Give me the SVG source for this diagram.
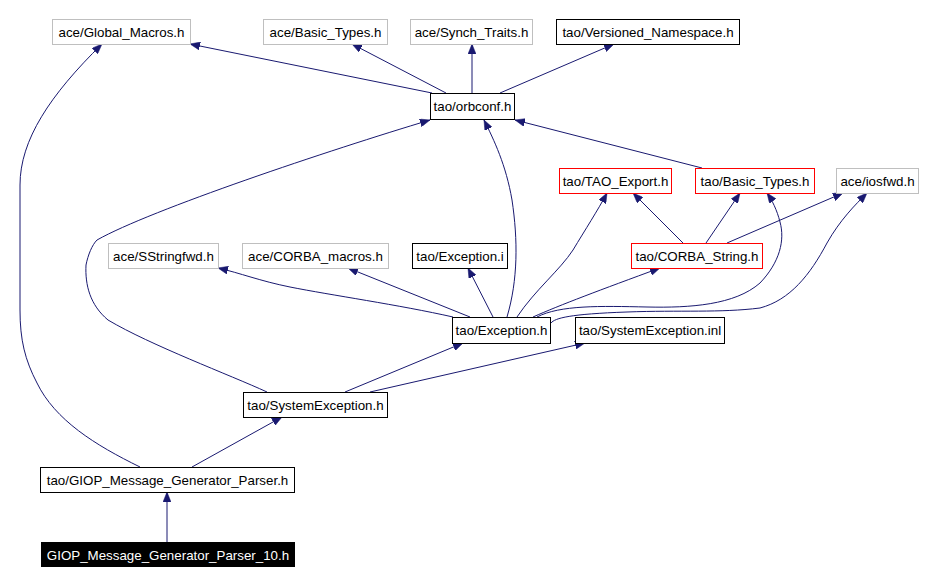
<svg xmlns="http://www.w3.org/2000/svg" width="926" height="584" viewBox="0 0 926 584">
<style>
.n rect{fill:#fff;stroke-width:1}
.g rect{stroke:#bfbfbf}
.b rect{stroke:#000}
.r rect{stroke:#ff0000}
text{font-family:"Liberation Sans",Arial,sans-serif;font-size:13.33px;fill:#000;text-anchor:middle}
.e path{fill:none;stroke:#191970;stroke-width:1;marker-end:url(#ah)}
</style>
<defs>
<marker id="ah" markerUnits="userSpaceOnUse" markerWidth="11" markerHeight="8" refX="10" refY="4" orient="auto">
<path d="M0,0 L10,4 L0,8 z" fill="#191970" stroke="#191970" stroke-width="0.5"/>
</marker>
</defs>
<rect width="926" height="584" fill="#fff"/>
<g class="e" id="edges">
<path d="M432,93 L190,44"/>
<path d="M446,93 L352,44"/>
<path d="M472,93 L472,44"/>
<path d="M500,93 L614,44"/>
<path d="M507,317 C518,280 518,240 512,200 C506,165 494,140 484,120"/>
<path d="M702,168 L515,120"/>
<path d="M267,392 C230,375 150,345 108,320 C90,305 85,285 86,265 C88,255 92,245 97,240 C150,210 330,150 430,120"/>
<path d="M140,467 C95,445 55,420 37,383 C25,360 20,340 20,310 L20,185 C20,140 50,95 102,44"/>
<path d="M167,542 L167,492"/>
<path d="M192,467 L282,417"/>
<path d="M345,392 L463,343"/>
<path d="M370,392 L585,343"/>
<path d="M453,317 C400,305 330,295 290,287 C260,281 240,273 218,268"/>
<path d="M470,317 L348,268"/>
<path d="M493,317 L468,268"/>
<path d="M517,317 C535,290 560,270 573,250 C585,230 598,210 607,193"/>
<path d="M533,317 C560,305 600,290 660,268"/>
<path d="M537,317 C560,305 600,306 647,307 C690,308 735,305 760,283 C780,262 785,240 780,222 C777,210 772,200 767,193"/>
<path d="M551,323 C555,318 570,314 627,312 C680,310 720,313 760,308 C790,300 810,275 827,243 C840,220 855,205 867,193"/>
<path d="M683,243 L633,193"/>
<path d="M706,243 L740,193"/>
<path d="M727,243 L843,193"/>
</g>
<g class="n g" id="n_ace_global_macros"><rect x="52.5" y="19.5" width="138" height="25"/><text x="121.5" y="36.5">ace/Global_Macros.h</text></g>
<g class="n g" id="n_ace_basic_types"><rect x="263.5" y="19.5" width="124" height="25"/><text x="325.5" y="36.5">ace/Basic_Types.h</text></g>
<g class="n g" id="n_ace_synch_traits"><rect x="410.5" y="19.5" width="122" height="25"/><text x="471.5" y="36.5">ace/Synch_Traits.h</text></g>
<g class="n b" id="n_tao_versioned_namespace"><rect x="556.5" y="19.5" width="183" height="25"/><text x="648" y="36.5">tao/Versioned_Namespace.h</text></g>
<g class="n b" id="n_tao_orbconf"><rect x="430.5" y="93.5" width="84" height="26"/><text x="472.5" y="111">tao/orbconf.h</text></g>
<g class="n r" id="n_tao_tao_export"><rect x="559.5" y="168.5" width="112" height="25"/><text x="615.5" y="185.5">tao/TAO_Export.h</text></g>
<g class="n r" id="n_tao_basic_types"><rect x="695.5" y="168.5" width="119" height="25"/><text x="755" y="185.5">tao/Basic_Types.h</text></g>
<g class="n g" id="n_ace_iosfwd"><rect x="836.5" y="168.5" width="82" height="25"/><text x="877.5" y="185.5">ace/iosfwd.h</text></g>
<g class="n g" id="n_ace_sstringfwd"><rect x="108.5" y="243.5" width="110" height="25"/><text x="163.5" y="260.5">ace/SStringfwd.h</text></g>
<g class="n g" id="n_ace_corba_macros"><rect x="242.5" y="243.5" width="146" height="25"/><text x="315.5" y="260.5">ace/CORBA_macros.h</text></g>
<g class="n b" id="n_tao_exception_i"><rect x="412.5" y="243.5" width="95" height="25"/><text x="460" y="260.5">tao/Exception.i</text></g>
<g class="n r" id="n_tao_corba_string"><rect x="631.5" y="243.5" width="131" height="25"/><text x="697" y="260.5">tao/CORBA_String.h</text></g>
<g class="n b" id="n_tao_exception_h"><rect x="452.5" y="317.5" width="98" height="26"/><text x="501.5" y="335">tao/Exception.h</text></g>
<g class="n b" id="n_tao_systemexception_inl"><rect x="575.5" y="317.5" width="149" height="26"/><text x="650" y="335">tao/SystemException.inl</text></g>
<g class="n b" id="n_tao_systemexception_h"><rect x="243.5" y="392.5" width="144" height="25"/><text x="315.5" y="409.5">tao/SystemException.h</text></g>
<g class="n b" id="n_tao_giop_parser"><rect x="40.5" y="467.5" width="254" height="25"/><text x="167.5" y="484.5">tao/GIOP_Message_Generator_Parser.h</text></g>
<g id="n_giop_parser_10"><rect x="41" y="542" width="254" height="25" fill="#000"/><text x="168" y="559.5" style="fill:#fff">GIOP_Message_Generator_Parser_10.h</text></g>
</svg>
